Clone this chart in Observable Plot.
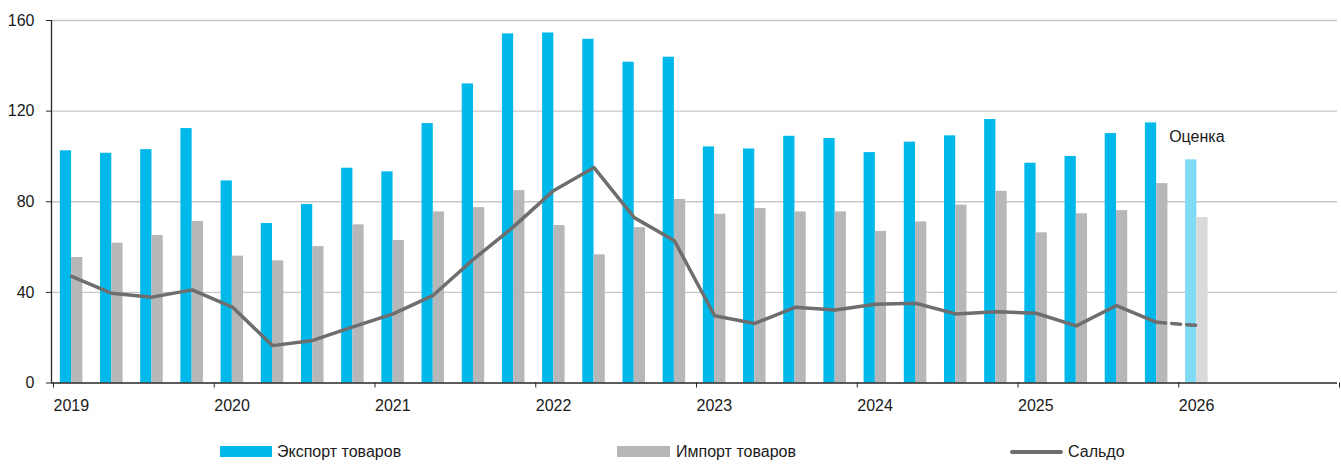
<!DOCTYPE html>
<html><head><meta charset="utf-8">
<script src="https://cdn.jsdelivr.net/npm/d3@7"></script>
<script src="https://cdn.jsdelivr.net/npm/@observablehq/plot@0.6"></script>
<style>
body{margin:0;background:#fff;font-family:"Liberation Sans Narrow","Liberation Sans",sans-serif;}
#legend{position:relative;width:1341px;height:34px;font-size:16px;color:#1a1a1a}
#legend .sw{position:absolute;top:16px;height:11px}
#legend .ln{position:absolute;top:19.5px;height:4px;border-radius:2px}
#legend .tx{position:absolute;top:12px;line-height:20px;white-space:nowrap}
</style></head><body>
<div id="chart"></div>
<div id="legend"></div>
<script>
const quarters = ["2019Q1","2019Q2","2019Q3","2019Q4","2020Q1","2020Q2","2020Q3","2020Q4","2021Q1","2021Q2","2021Q3","2021Q4","2022Q1","2022Q2","2022Q3","2022Q4","2023Q1","2023Q2","2023Q3","2023Q4","2024Q1","2024Q2","2024Q3","2024Q4","2025Q1","2025Q2","2025Q3","2025Q4","2026Q1"];
const exportVals = [102.5,101.4,103.0,112.3, 89.2,70.4,78.8,94.8, 93.2,114.5,132.0,154.1, 154.5,151.7,141.6,143.8, 104.2,103.3,108.9,107.9, 101.7,106.3,109.1,116.3, 97.0,100.0,110.1,114.8, 98.5];
const importVals = [55.4,61.7,65.1,71.3, 56.0,53.9,60.2,69.8, 62.9,75.5,77.4,84.9, 69.5,56.6,68.6,81.0, 74.5,77.0,75.5,75.5, 66.9,71.1,78.5,84.6, 66.3,74.7,76.1,88.0, 73.0];
const saldoVals = [47.1,39.6,37.9,41.1, 33.5,16.5,18.8,24.8, 30.5,38.7,54.6,69.0, 85.0,95.1,73.0,62.8, 29.7,26.3,33.4,32.2, 34.8,35.2,30.5,31.4, 30.8,25.2,34.2,26.8, 25.4];
const estimateFrom = "2026Q1";
const yearLabels = ["2019","2020","2021","2022","2023","2024","2025","2026"];
const yTicks = [0,40,80,120,160];
const seriesNames = ["Экспорт товаров","Импорт товаров","Сальдо"];
const estimateLabel = "Оценка";

const C = {exp:"#00b9eb", imp:"#b6b7b9", expEst:"#80dcf5", impEst:"#d9d9d9", line:"#6e6e6e", axis:"#262626", grid:"#c8c8c8"};

const estIdx = quarters.indexOf(estimateFrom);
const rows = quarters.map((q,i)=>({q, i, exp:exportVals[i], imp:importVals[i], saldo:saldoVals[i], est:i>=estIdx}));
const nQ = 32;
const bw = 0.28;
const W = 1341, H = 430;
const font = '"Liberation Sans Narrow","Liberation Sans",sans-serif';

const chart = Plot.plot({
  width: W, height: H,
  marginTop: 20, marginLeft: 51, marginRight: 4, marginBottom: H - 382.5,
  style: {fontFamily: font, fontSize: "16px", color: "#1a1a1a", background: "#fff"},
  x: {type: "linear", domain: [0, nQ], axis: null},
  y: {domain: [0, 160], axis: null},
  marks: [
    Plot.gridY(yTicks.filter(v=>v>0), {stroke: C.grid, strokeOpacity: 1, strokeWidth: 1.3}),
    Plot.rectY(rows.filter(d=>!d.est), {x1: d=>d.i+0.5-bw, x2: d=>d.i+0.5, y1: 0, y2: "exp", fill: C.exp}),
    Plot.rectY(rows.filter(d=>!d.est), {x1: d=>d.i+0.5, x2: d=>d.i+0.5+bw, y1: 0, y2: "imp", fill: C.imp}),
    Plot.rectY(rows.filter(d=>d.est), {x1: d=>d.i+0.5-bw, x2: d=>d.i+0.5, y1: 0, y2: "exp", fill: C.expEst}),
    Plot.rectY(rows.filter(d=>d.est), {x1: d=>d.i+0.5, x2: d=>d.i+0.5+bw, y1: 0, y2: "imp", fill: C.impEst}),
    Plot.lineY(rows.filter(d=>d.i<=estIdx-1), {x: d=>d.i+0.5, y: "saldo", stroke: C.line, strokeWidth: 3.5, strokeLinejoin: "round"}),
    Plot.lineY(rows.filter(d=>d.i>=estIdx-1), {x: d=>d.i+0.5, y: "saldo", stroke: C.line, strokeWidth: 3.5, strokeDasharray: "9,6"}),
    Plot.text(rows.filter(d=>d.est), {x: d=>d.i+0.5, y: "exp", text: ()=>estimateLabel, dy: -23, fill: "#1a1a1a", fontSize: 16}),
    Plot.ruleX([0], {stroke: C.axis, strokeWidth: 1.3}),
    Plot.ruleY([0], {stroke: C.axis, strokeWidth: 1.3}),
    Plot.axisY(yTicks, {tickSize: 5, tickPadding: 12, stroke: C.axis, fill: "#1a1a1a"}),
    Plot.axisX(d3.range(0, nQ+1, 4), {tickSize: 5, tickPadding: 12, stroke: C.axis, fill: "#1a1a1a",
      tickFormat: v => yearLabels[v/4] ?? "", textAnchor: "start", dx: 2})
  ]
});
document.getElementById("chart").appendChild(chart);

const lg = document.getElementById("legend");
const items = [
  {type:"sw", color:C.exp, left:220, w:52, text:seriesNames[0], tl:277},
  {type:"sw", color:C.imp, left:617, w:53, text:seriesNames[1], tl:676},
  {type:"ln", color:C.line, left:1010, w:53, text:seriesNames[2], tl:1068}
];
for (const it of items) {
  const s = document.createElement("div");
  s.className = it.type; s.style.left = it.left+"px"; s.style.width = it.w+"px"; s.style.background = it.color;
  lg.appendChild(s);
  const t = document.createElement("div");
  t.className = "tx"; t.style.left = it.tl+"px"; t.textContent = it.text;
  lg.appendChild(t);
}
</script>
</body></html>
